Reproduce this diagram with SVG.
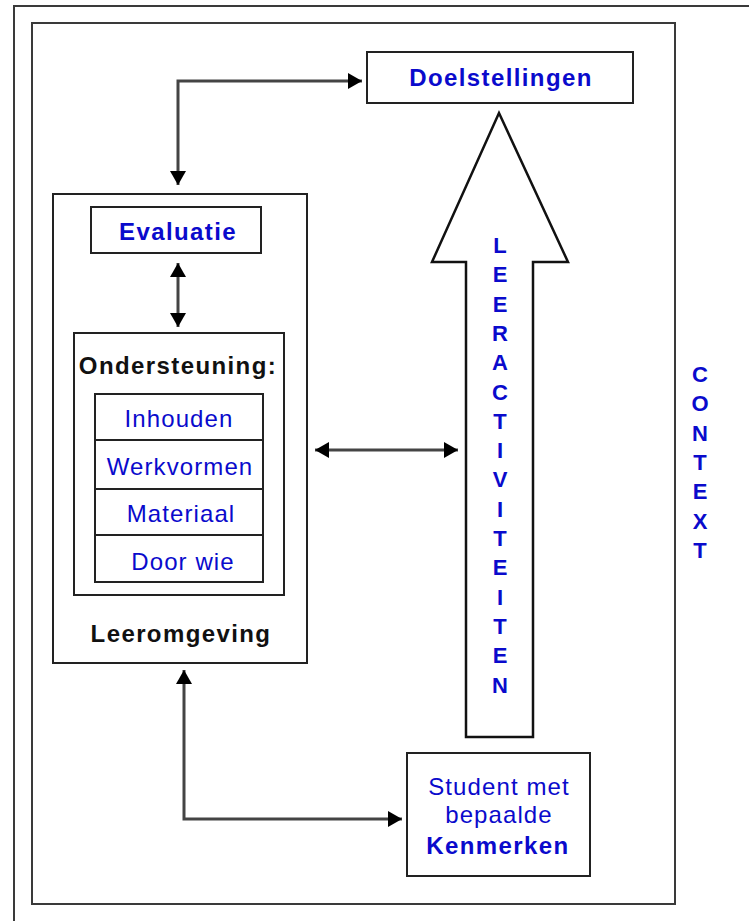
<svg xmlns="http://www.w3.org/2000/svg" width="749" height="921" viewBox="0 0 749 921">
<defs>
<style>
.frame{fill:none;stroke:#3a3a3a;stroke-width:2}
.box{fill:#fff;stroke:#222;stroke-width:2}
.conn{fill:none;stroke:#444;stroke-width:3}
.t{font-family:"Liberation Sans",Arial,sans-serif;font-size:24px;text-anchor:middle}
.b{font-weight:bold;letter-spacing:1.4px}
.n{letter-spacing:1.1px}
.blue{fill:#0a0acc}
.black{fill:#111}
.v{font-family:"Liberation Sans",Arial,sans-serif;font-size:22px;font-weight:bold;text-anchor:middle;fill:#0a0acc}
</style>
<marker id="ah" viewBox="0 0 14 16" refX="14" refY="8" markerWidth="14" markerHeight="16" markerUnits="userSpaceOnUse" orient="auto-start-reverse">
<path d="M0,0 L14,8 L0,16 Z" fill="#000"/>
</marker>
</defs>
<rect width="749" height="921" fill="#fff"/>
<path class="frame" d="M14,930 V6 H760" stroke="#111"/>
<rect class="frame" x="32" y="23" width="643" height="881"/>

<g id="doelstellingen">
<rect class="box" x="367" y="52" width="266" height="51"/>
<text class="t b blue" x="501" y="86">Doelstellingen</text>
</g>

<g id="leeromgeving">
<rect class="box" x="53" y="194" width="254" height="469"/>
<text class="t b black" x="181" y="642">Leeromgeving</text>
</g>

<g id="evaluatie">
<rect class="box" x="91" y="207" width="170" height="46"/>
<text class="t b blue" x="178" y="240">Evaluatie</text>
</g>

<g id="ondersteuning">
<rect class="box" x="74" y="333" width="210" height="262"/>
<text class="t b black" x="178" y="374">Ondersteuning:</text>
<rect class="box" x="95" y="394" width="168" height="188"/>
<path d="M95,440 H263 M95,489 H263 M95,535 H263" stroke="#222" stroke-width="2"/>
<text class="t n blue" x="179" y="427">Inhouden</text>
<text class="t n blue" x="180" y="475">Werkvormen</text>
<text class="t n blue" x="181" y="522">Materiaal</text>
<text class="t n blue" x="183" y="570">Door wie</text>
</g>

<g id="leeractiviteiten">
<polygon points="499,113 568,262 533,262 533,737 466,737 466,262 432,262" fill="#fff" stroke="#111" stroke-width="2.5" stroke-linejoin="miter"/>
<text class="v" x="500" y="253">L</text>
<text class="v" x="500" y="282">E</text>
<text class="v" x="500" y="312">E</text>
<text class="v" x="500" y="341">R</text>
<text class="v" x="500" y="370">A</text>
<text class="v" x="500" y="400">C</text>
<text class="v" x="500" y="429">T</text>
<text class="v" x="500" y="458">I</text>
<text class="v" x="500" y="487">V</text>
<text class="v" x="500" y="517">I</text>
<text class="v" x="500" y="546">T</text>
<text class="v" x="500" y="575">E</text>
<text class="v" x="500" y="605">I</text>
<text class="v" x="500" y="634">T</text>
<text class="v" x="500" y="663">E</text>
<text class="v" x="500" y="693">N</text>
</g>

<g id="student">
<rect class="box" x="407" y="753" width="183" height="123"/>
<text class="t n blue" x="499" y="795">Student met</text>
<text class="t n blue" x="499" y="823">bepaalde</text>
<text class="t b blue" x="498" y="854">Kenmerken</text>
</g>

<g id="context">
<text class="v" x="700" y="382">C</text>
<text class="v" x="700" y="411">O</text>
<text class="v" x="700" y="441">N</text>
<text class="v" x="700" y="470">T</text>
<text class="v" x="700" y="499">E</text>
<text class="v" x="700" y="529">X</text>
<text class="v" x="700" y="558">T</text>
</g>

<g id="connectors">
<path class="conn" d="M362,81 H178 V185" marker-start="url(#ah)" marker-end="url(#ah)"/>
<path class="conn" d="M178,263 V327" marker-start="url(#ah)" marker-end="url(#ah)"/>
<path class="conn" d="M315,450 H458" marker-start="url(#ah)" marker-end="url(#ah)"/>
<path class="conn" d="M184,670 V819 H402" marker-start="url(#ah)" marker-end="url(#ah)"/>
</g>
</svg>
